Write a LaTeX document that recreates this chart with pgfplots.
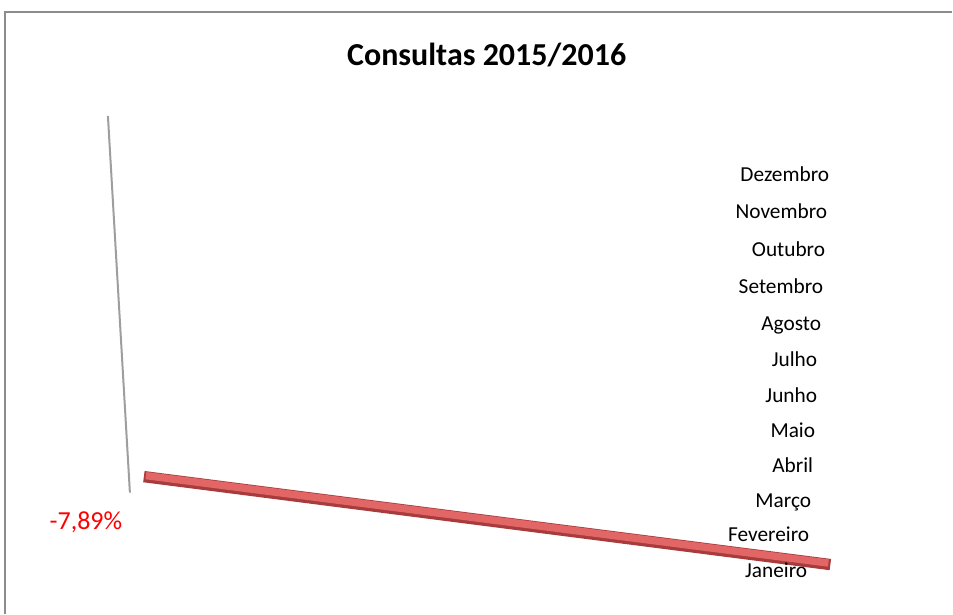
\documentclass[border=0pt]{standalone}
\usepackage{fontspec}
\setmainfont{Carlito}
\usepackage{pgfplots}
\pgfplotsset{compat=1.18}
\definecolor{barred}{HTML}{E26666}
\definecolor{baredge}{HTML}{A83C3C}
\definecolor{framegray}{HTML}{8C8C8C}
\definecolor{axgray}{HTML}{9E9E9E}

% month labels, placed along the depth axis of the 3D view (baseline positions)
\pgfplotstableread{
x   y   label
830 182 Dezembro
828 219 Novembro
826 257 Outubro
824 294 Setembro
822 331 Agosto
818 367 Julho
818 403 Junho
816 438 Maio
814 473 Abril
812 508 Março
810 542 Fevereiro
808 578 Janeiro
}\months

\begin{document}
\begin{tikzpicture}
\begin{axis}[
  scale only axis,
  width=714.75pt, height=460.5pt,
  xmin=0, xmax=953, ymin=0, ymax=614,
  y dir=reverse,
  hide axis,
  clip=false,
]
\path (axis cs:0,0) rectangle (axis cs:953,614);
% chart frame
\addplot[framegray, line width=1.1pt] coordinates {(5,614) (5,12) (953,12)};
% value axis
\addplot[axgray, line width=1.5pt] coordinates {(108,116) (130,493)};
% Janeiro bar (-7,89%)
\addplot[baredge, line width=8.5pt] coordinates {(144,477) (831,565)};
\addplot[barred, line width=5.5pt] coordinates {(146,476) (829,563.5)};
% month names
\addplot[only marks, mark=none, nodes near coords, point meta=explicit symbolic,
  every node near coord/.style={anchor=base east, inner sep=0pt, black,
    font=\fontsize{16pt}{19pt}\selectfont}]
  table[x=x, y=y, meta=label] {\months};
\node[red, font=\fontsize{19.5pt}{22pt}\selectfont] at (axis cs:86,523) {-7,89\%};
\node[font=\bfseries\fontsize{24pt}{28pt}\selectfont] at (axis cs:487,55) {Consultas 2015/2016};
\end{axis}
\end{tikzpicture}
\end{document}
